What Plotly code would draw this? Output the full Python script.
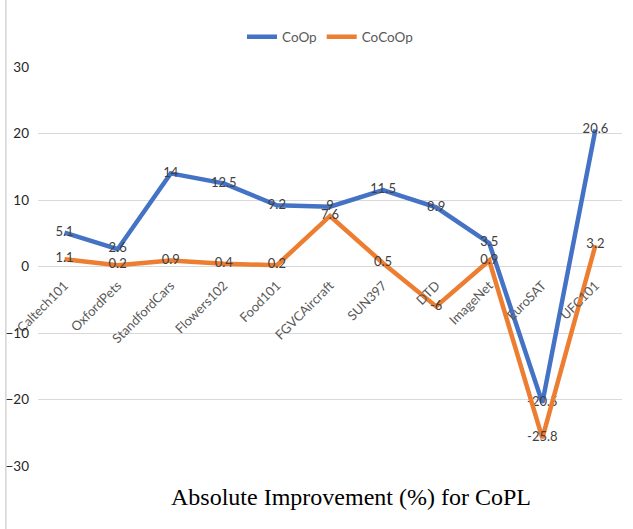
import plotly.graph_objects as go

datasets = ["Caltech101", "OxfordPets", "StandfordCars", "Flowers102", "Food101",
            "FGVCAircraft", "SUN397", "DTD", "ImageNet", "EuroSAT", "UFC101"]
coop = [5.1, 2.6, 14, 12.5, 9.2, 9, 11.5, 8.9, 3.5, -20.5, 20.6]
cocoop = [1.1, 0.2, 0.9, 0.4, 0.2, 7.6, 0.5, -6, 0.9, -25.8, 3.2]
y_ticks = [-30, -20, -10, 0, 10, 20, 30]

fig = go.Figure()
fig.add_trace(go.Scatter(
    x=datasets, y=coop, name="CoOp",
    mode="lines+text",
    line=dict(color="#4472C4", width=4.5),
    text=[f"{v:g}" for v in coop],
    textposition="middle center",
    textfont=dict(family="Lato", size=13, color="#404040"),
))
fig.add_trace(go.Scatter(
    x=datasets, y=cocoop, name="CoCoOp",
    mode="lines+text",
    line=dict(color="#ED7D31", width=4.5),
    text=[f"{v:g}" for v in cocoop],
    textposition="middle center",
    textfont=dict(family="Lato", size=13, color="#404040"),
))

fig.update_layout(
    width=633, height=529,
    plot_bgcolor="white",
    paper_bgcolor="white",
    font=dict(family="Lato", size=13, color="#404040"),
    margin=dict(t=67, b=63, l=38, r=11, autoexpand=False),
    legend=dict(
        orientation="h", x=0.5, xanchor="center", y=1.075, yanchor="middle",
        font=dict(family="Lato", size=13.5, color="#595959"),
        itemwidth=30,
    ),
    xaxis=dict(
        type="category",
        range=[-0.5, 10.5],
        anchor="free", position=0.48,
        automargin=False,
        showgrid=False, showline=False, zeroline=False,
        ticks="", tickangle=-45,
        tickfont=dict(family="Lato", size=13, color="#595959"),
    ),
    yaxis=dict(
        range=[-30, 30],
        tickvals=y_ticks,
        automargin=False,
        ticklabelstandoff=8,
        gridcolor="#D9D9D9", gridwidth=1,
        zeroline=False, showline=False,
        tickfont=dict(family="Lato", size=13.5, color="#262626"),
    ),
    shapes=[dict(type="line", xref="paper", yref="paper",
                 x0=-0.055, x1=-0.055, y0=-0.2, y1=1.2,
                 line=dict(color="#BFBFBF", width=1))],
    annotations=[dict(
        text="Absolute Improvement (%) for CoPL",
        xref="paper", yref="paper", x=0.536, y=-0.078, yanchor="middle",
        showarrow=False,
        font=dict(family="Liberation Serif", size=24, color="black"),
    )],
)

fig.write_html("out.html", config={"displayModeBar": False},
               post_script="document.body.style.margin='0';")
